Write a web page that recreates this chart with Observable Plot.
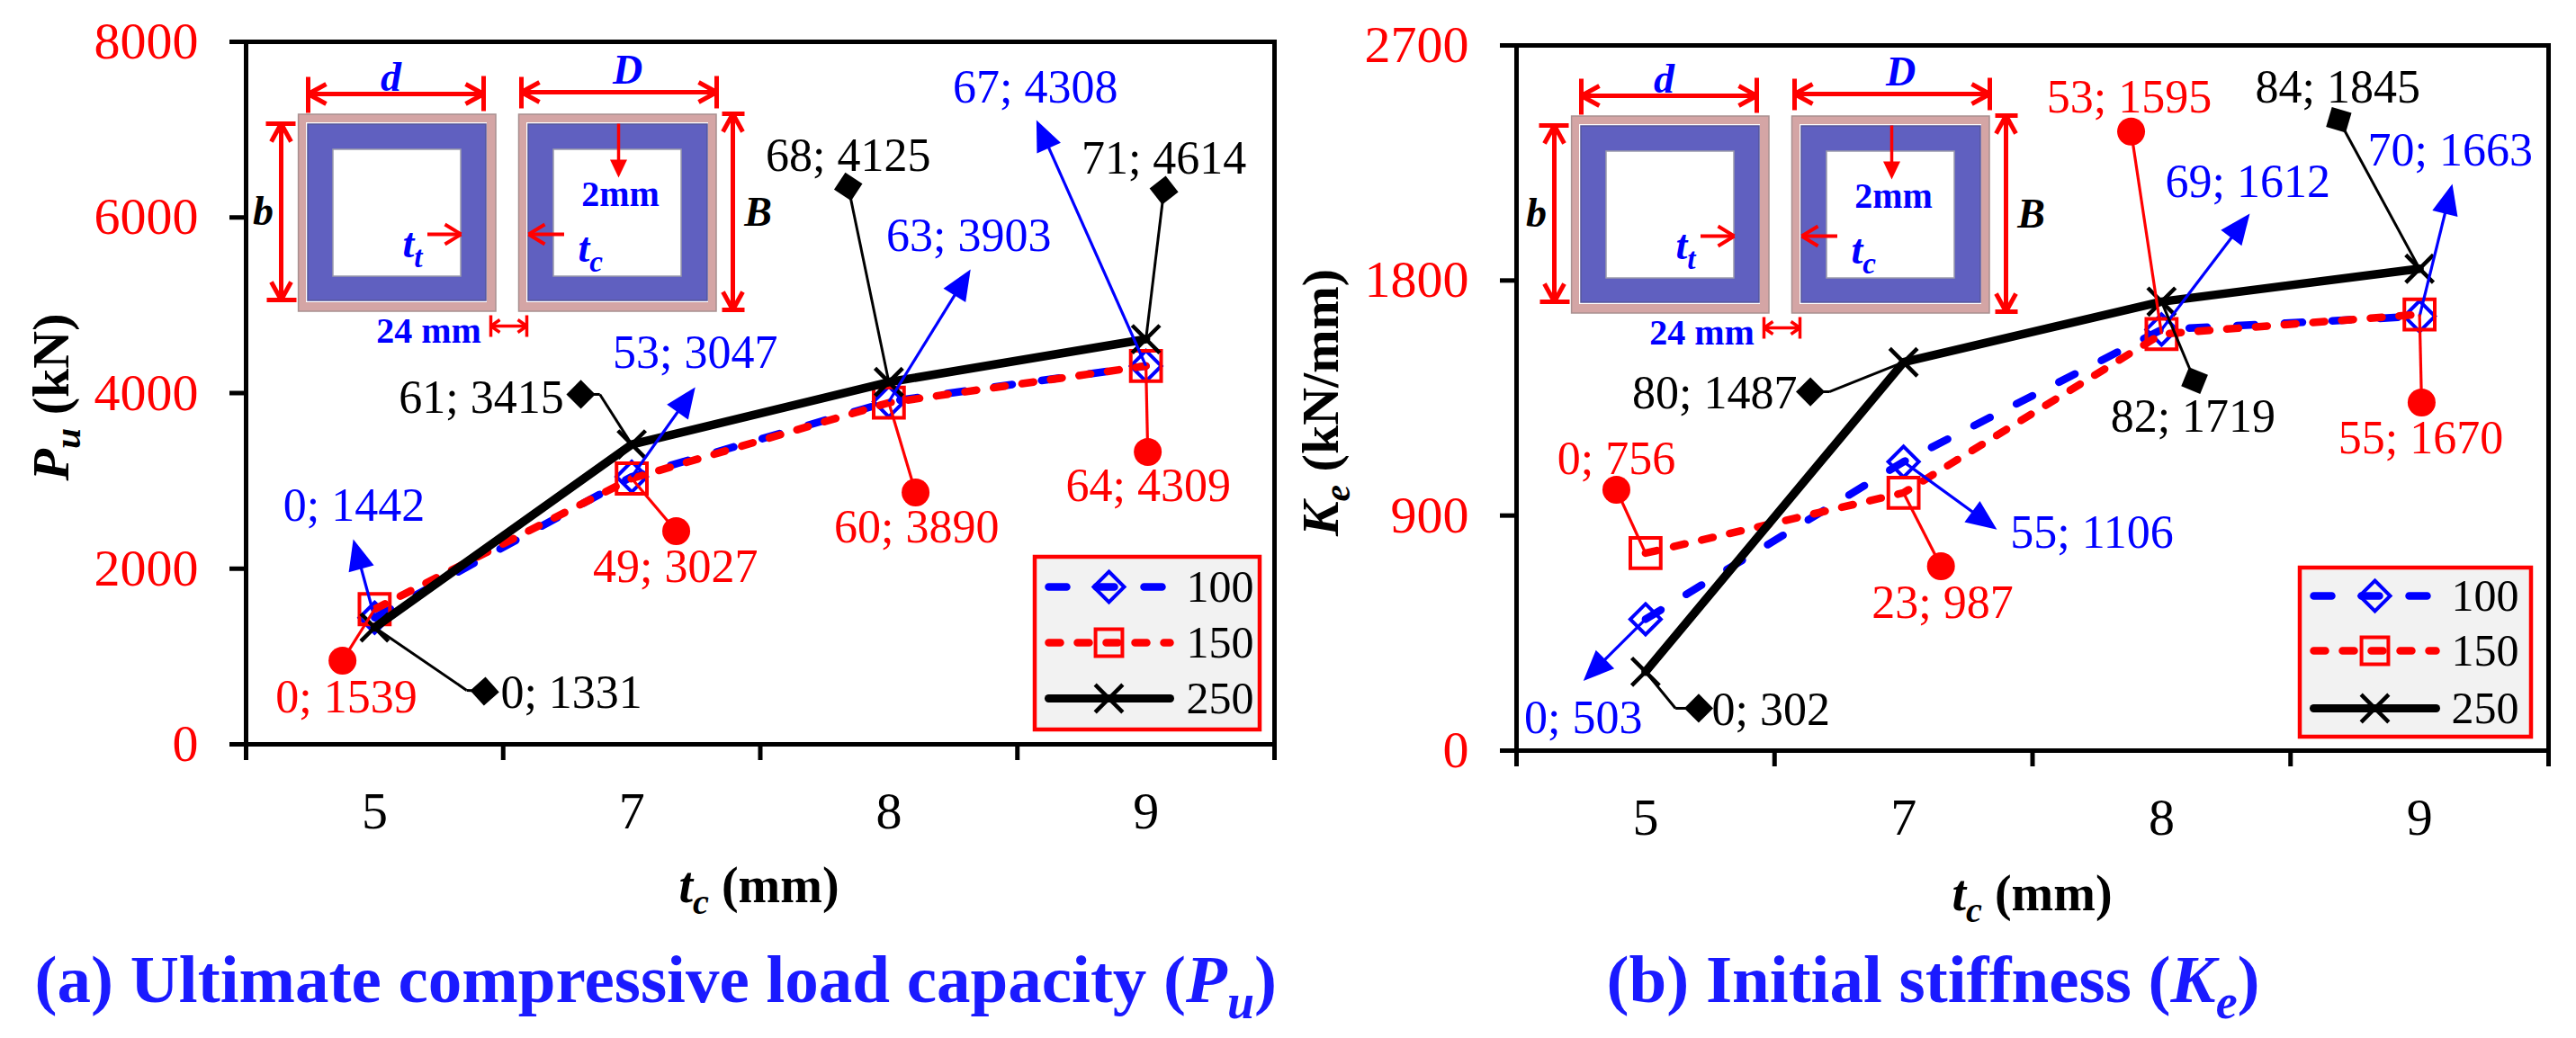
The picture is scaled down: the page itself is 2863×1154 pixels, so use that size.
<!DOCTYPE html>
<html>
<head>
<meta charset="utf-8">
<script src="https://cdn.jsdelivr.net/npm/d3@7"></script>
<script src="https://cdn.jsdelivr.net/npm/@observablehq/plot@0.6"></script>
<style>
  html, body { margin: 0; padding: 0; background: #fff; overflow: hidden; }
  #root { position: relative; width: 2863px; height: 1154px; overflow: hidden; background: #fff; }
  #root svg { position: absolute; max-width: none; }
</style>
</head>
<body>
<div id="root"></div>
<script>
// ---- chart values ----
const tcValues = [5, 7, 8, 9];
const seriesNames = ["100", "150", "250"];

const pu100 = [1442, 3047, 3903, 4308];
const pu150 = [1539, 3027, 3890, 4309];
const pu250 = [1331, 3415, 4125, 4614];
const ke100 = [503, 1106, 1612, 1663];
const ke150 = [756, 987, 1595, 1670];
const ke250 = [302, 1487, 1719, 1845];

const puIds100 = [0, 53, 63, 67];
const puIds150 = [0, 49, 60, 64];
const puIds250 = [0, 61, 68, 71];
const keIds100 = [0, 55, 69, 70];
const keIds150 = [0, 23, 53, 55];
const keIds250 = [0, 80, 82, 84];

// callout ends, in [category index, value] units
const puEnds100 = [[-0.083, 2335], [1.247, 4067], [2.318, 5408], [2.574, 7109]];
const puText100 = [[-0.08, 2714], [1.247, 4456], [2.311, 5787], [2.57, 7477]];
const puEnds150 = [[-0.125, 953], [1.173, 2428], [2.104, 2868], [3.007, 3329]];
const puText150 = [[-0.11, 533], [1.17, 2018], [2.108, 2469], [3.009, 2940]];
const puEnds250 = [[0.428, 604], [0.802, 3985], [1.842, 6351], [3.07, 6310]];
const puBend250 = [[0.358, 615], [0.876, 3985], null, null];
const puText250 = [[0.49, 584], [0.736, 3944], [1.842, 6699], [3.07, 6668]];
const puAnch250 = ["start", "end", "middle", "middle"];

const keEnds100 = [[-0.241, 267], [1.362, 846], [2.342, 2056], [3.127, 2170]];
const keText100 = [[-0.241, 124], [1.414, 835], [2.334, 2178], [3.119, 2298]];
const keAnch100 = ["middle", "start", "middle", "middle"];
const keEnds150 = [[-0.113, 999], [1.145, 706], [1.882, 2370], [3.008, 1333]];
const keText150 = [[-0.113, 1116], [1.151, 565], [1.875, 2500], [3.005, 1195]];
const keEnds250 = [[0.206, 162], [0.639, 1374], [2.128, 1417], [2.687, 2415]];
const keBend250 = [[0.116, 162], [0.712, 1374], null, null];
const keText250 = [[0.257, 155], [0.588, 1367], [2.122, 1278], [2.683, 2538]];
const keAnch250 = ["start", "end", "middle", "middle"];

// ---- styling ----
const FONT = "Liberation Serif";
const BLUE = "#0000ff", RED = "#ff0000", BLACK = "#000000", TITLE = "#1a1aff";
const PINK = "#d4a5a5", STEEL = "#6060c0";
const DASH_BLUE = "20 33", DASH_RED = "13 19";
const edges = [-0.5, 0.5, 1.5, 2.5, 3.5];
const ANCHORS = ["start", "middle", "end"];

const triangle = (len, half) => ({
  draw(c) { c.moveTo(0, 0); c.lineTo(half, len); c.lineTo(-half, len); c.closePath(); }
});

function rows(values, ids, ends, texts, bends, anchors) {
  return values.map((v, i) => ({
    i, v, label: `${ids[i]}; ${v}`,
    ex: ends[i][0], ey: ends[i][1],
    tx: texts[i][0], ty: texts[i][1],
    bx: bends && bends[i] ? bends[i][0] : i,
    by: bends && bends[i] ? bends[i][1] : v,
    anchor: anchors ? anchors[i] : "middle"
  }));
}

function panel(cfg) {
  const plotW = cfg.width - cfg.left - cfg.right;
  const plotH = cfg.height - cfg.top - cfg.bottom;
  const pxX = plotW / 4, pxY = plotH / cfg.yMax;
  const bearing = (x1, y1, x2, y2) =>
    Math.atan2((x2 - x1) * pxX, (y2 - y1) * pxY) * 180 / Math.PI;

  const seriesMarks = (vals, stroke, sw, dash, symbol, r, mw) => [
    Plot.line(vals, {x: (d, i) => i, y: d => d, stroke, strokeWidth: sw,
      strokeDasharray: dash, strokeLinecap: "round", strokeLinejoin: "round"}),
    Plot.dot(vals, {x: (d, i) => i, y: d => d, symbol, r, fill: "none", stroke, strokeWidth: mw})
  ];

  const texts = (data, fill) => ANCHORS.map(a => Plot.text(data.filter(d => d.anchor === a), {
    x: "tx", y: "ty", text: "label", fill, fontSize: 52, textAnchor: a
  }));

  const blue = cfg.blue, red = cfg.red, black = cfg.black;
  return Plot.plot({
    width: cfg.width, height: cfg.height,
    marginLeft: cfg.left, marginRight: cfg.right, marginTop: cfg.top, marginBottom: cfg.bottom,
    x: {domain: [-0.5, 3.5], axis: null},
    y: {domain: [0, cfg.yMax], axis: null},
    style: {fontFamily: FONT, background: "transparent", overflow: "visible"},
    marks: [
      Plot.frame({stroke: BLACK, strokeWidth: 5}),
      Plot.axisY({ticks: cfg.yTicks, tickSize: 18, tickPadding: 35, strokeWidth: 5, stroke: BLACK,
        fill: RED, fontSize: 58, label: null, tickFormat: d3.format("d")}),
      Plot.axisX({ticks: edges, tickSize: 18, strokeWidth: 5, stroke: BLACK, tickFormat: () => "", label: null}),
      Plot.axisX({ticks: [0, 1, 2, 3], tickSize: 0, tickPadding: cfg.xPad, fill: BLACK, strokeWidth: 0,
        fontSize: 58, label: null, tickFormat: i => tcValues[i]}),

      ...seriesMarks(cfg.values[0], BLUE, 8.5, DASH_BLUE, "diamond2", 15.3, 4),
      ...seriesMarks(cfg.values[1], RED, 8.5, DASH_RED, "square2", 21.5, 4),
      ...seriesMarks(cfg.values[2], BLACK, 9.5, null, "times", 14, 4.5),

      // blue arrows
      Plot.link(blue, {x1: "i", y1: "v", x2: d => d.i + (d.ex - d.i) * 0.94, y2: d => d.v + (d.ey - d.v) * 0.94,
        stroke: BLUE, strokeWidth: 3.2}),
      Plot.dot(blue, {x: "ex", y: "ey", symbol: triangle(34, 14.5), fill: BLUE, stroke: "none",
        rotate: d => bearing(d.i, d.v, d.ex, d.ey)}),
      ...texts(blue, BLUE),

      // red pins
      Plot.link(red, {x1: "i", y1: "v", x2: "ex", y2: "ey", stroke: RED, strokeWidth: 3.2}),
      Plot.dot(red, {x: "ex", y: "ey", r: 15.5, fill: RED, stroke: "none"}),
      ...texts(red, RED),

      // black pins
      Plot.link(black, {x1: "i", y1: "v", x2: "bx", y2: "by", stroke: BLACK, strokeWidth: 3}),
      Plot.link(black, {x1: "bx", y1: "by", x2: "ex", y2: "ey", stroke: BLACK, strokeWidth: 3}),
      Plot.dot(black, {x: "ex", y: "ey", symbol: "diamond2", r: 14.5, fill: BLACK, stroke: "none",
        rotate: d => bearing(d.bx, d.by, d.ex, d.ey)}),
      ...texts(black, BLACK)
    ]
  });
}

// ---- annotation layer, in page pixels ----
function schematic(ox, oy) {
  const X = v => v + ox, Y = v => v + oy;
  const rects = [
    [331.6, 551, 127, 346, PINK, "#a89090"], [340, 541, 136, 336, "#ffffff", "none"], [342, 540, 138, 334, STEEL, "#55559a"], [370, 512, 166, 307, "#ffffff", "#9999aa"],
    [576.5, 796, 127, 346, PINK, "#a89090"], [585, 787, 136, 336, "#ffffff", "none"], [587, 786, 138, 334, STEEL, "#55559a"], [615, 757, 166, 307, "#ffffff", "#9999aa"]
  ].map(([x1, x2, y1, y2, fill, stroke]) => ({x1: X(x1), x2: X(x2), y1: Y(y1), y2: Y(y2), fill, stroke}));

  const seg = (x1, y1, x2, y2, w) => ({x1: X(x1), y1: Y(y1), x2: X(x2), y2: Y(y2), w});
  const head = (x, y, dx, dy, len, half, w) => [
    seg(x, y, x - dx * len - dy * half, y - dy * len - dx * half, w),
    seg(x, y, x - dx * len + dy * half, y - dy * len + dx * half, w)
  ];
  const dimH = (x1, x2, y, b1a, b1b, b2a, b2b) => [
    seg(x1, y, x2, y, 5), seg(x1, b1a, x1, b1b, 5), seg(x2, b2a, x2, b2b, 5),
    ...head(x1, y, -1, 0, 20, 11, 5), ...head(x2, y, 1, 0, 20, 11, 5)
  ];
  const dimV = (x, y1, y2, a1, a2, b1, b2) => [
    seg(x, y1, x, y2, 5), seg(a1, y1, a2, y1, 5), seg(b1, y2, b2, y2, 5),
    ...head(x, y1, 0, -1, 20, 11, 5), ...head(x, y2, 0, 1, 20, 11, 5)
  ];
  const segs = [
    ...dimH(342, 537, 104, 85, 125, 84, 123),
    ...dimH(579, 796, 102, 85, 120, 84, 120),
    ...dimV(312, 137, 333, 295, 328, 296, 329),
    ...dimV(814, 126, 344, 802, 827, 802, 827),
    seg(474.5, 260, 512, 260, 4), ...head(512, 260, 1, 0, 18, 11, 4),
    seg(626.5, 260, 587, 260, 4), ...head(587, 260, -1, 0, 18, 11, 4),
    seg(687, 137, 687, 185, 3.5),
    seg(545, 362, 585, 362, 3.5), seg(545, 350, 545, 374, 3.5), seg(585, 350, 585, 374, 3.5),
    ...head(545, 362, -1, 0, 10, 7, 3.5), ...head(585, 362, 1, 0, 10, 7, 3.5)
  ];
  const italics = [
    {t: "d", x: 434, y: 100, fill: BLUE},
    {t: "D", x: 697, y: 92, fill: BLUE},
    {t: "b", x: 292, y: 249, fill: BLACK},
    {t: "B", x: 842, y: 250, fill: BLACK}
  ];
  const subscripted = [
    {t: "t[s:t]", x: 447, y: 285},
    {t: "t[s:c]", x: 642, y: 290}
  ];
  const uprights = [
    {t: "2mm", x: 689, y: 228},
    {t: "24 mm", x: 476, y: 380}
  ];
  return [
    Plot.rect(rects, {x1: "x1", x2: "x2", y1: "y1", y2: "y2", fill: d => d.fill, stroke: d => d.stroke, strokeWidth: 1.5}),
    Plot.link(segs, {x1: "x1", y1: "y1", x2: "x2", y2: "y2", stroke: RED, strokeWidth: d => d.w}),
    Plot.dot([[X(687), Y(197)]], {symbol: triangle(20, 9.5), fill: RED, stroke: "none", rotate: 180}),
    Plot.text(italics, {x: d => X(d.x), y: d => Y(d.y), text: "t", fill: d => d.fill, fontSize: 46,
      fontWeight: "bold", fontStyle: "italic", textAnchor: "middle", lineAnchor: "bottom"}),
    Plot.text(subscripted, {x: d => X(d.x), y: d => Y(d.y), text: "t", fill: BLUE, fontSize: 46,
      fontWeight: "bold", fontStyle: "italic", textAnchor: "start", lineAnchor: "bottom"}),
    Plot.text(uprights, {x: d => X(d.x), y: d => Y(d.y), text: "t", fill: BLUE, fontSize: 40,
      fontWeight: "bold", textAnchor: "middle", lineAnchor: "bottom"})
  ];
}

function legendBox(b) {
  const series = [
    {stroke: BLUE, dash: DASH_BLUE, sw: 8.5, symbol: "diamond2", r: 15.3, mw: 4},
    {stroke: RED, dash: DASH_RED, sw: 8.5, symbol: "square2", r: 19, mw: 4},
    {stroke: BLACK, dash: null, sw: 9, symbol: "times", r: 14, mw: 4.5}
  ];
  return [
    Plot.rect([b], {x1: "x1", x2: "x2", y1: "y1", y2: "y2", fill: "#f2f2f2", stroke: RED, strokeWidth: 4.5}),
    ...series.flatMap((s, i) => [
      Plot.line([[b.lx1, b.rows[i]], [b.lx2, b.rows[i]]], {stroke: s.stroke, strokeWidth: s.sw,
        strokeDasharray: s.dash, strokeLinecap: "round"}),
      Plot.dot([[b.mx, b.rows[i]]], {symbol: s.symbol, r: s.r, fill: "none", stroke: s.stroke, strokeWidth: s.mw})
    ]),
    Plot.text(seriesNames, {x: () => b.tx, y: (d, i) => b.rows[i], text: d => d, fill: BLACK, fontSize: 50, textAnchor: "end"})
  ];
}

function titles() {
  return [
    Plot.text([
      {t: "(a) Ultimate compressive load capacity ([i:P][s:u])", x: 38},
      {t: "(b) Initial stiffness ([i:K][s:e])", x: 1785}
    ], {x: "x", y: () => 1113, text: "t", fill: TITLE, fontSize: 75, fontWeight: "bold",
        textAnchor: "start", lineAnchor: "bottom"}),
    Plot.text([
      {t: "[i:t][s:c] (mm)", x: 843, y: 1002},
      {t: "[i:t][s:c] (mm)", x: 2258, y: 1011}
    ], {x: "x", y: "y", text: "t", fill: BLACK, fontSize: 56, fontWeight: "bold",
        textAnchor: "middle", lineAnchor: "bottom"}),
    Plot.text([
      {t: "[i:P][s:u] (kN)", x: 75, y: 441},
      {t: "[i:K][s:e] (kN/mm)", x: 1486, y: 447}
    ], {x: "x", y: "y", text: "t", fill: BLACK, fontSize: 58, fontWeight: "bold",
        textAnchor: "middle", lineAnchor: "bottom", rotate: -90})
  ];
}

// Turn [i:..] and [s:..] markup into italic / subscript tspans.
function enrich(svg) {
  svg.querySelectorAll("text").forEach(el => {
    const raw = el.textContent;
    if (!raw.includes("[")) return;
    const size = parseFloat(getComputedStyle(el).fontSize);
    const shift = size * 0.24;
    el.textContent = "";
    let pending = 0, last = 0;
    const add = (txt, cls) => {
      if (!txt) return;
      const ts = document.createElementNS("http://www.w3.org/2000/svg", "tspan");
      ts.textContent = txt;
      let dy = pending;
      if (cls === "s") {
        ts.setAttribute("font-size", size * 0.72);
        ts.setAttribute("font-style", "italic");
        dy += shift; pending = -shift;
      } else {
        pending = 0;
        if (cls === "i") ts.setAttribute("font-style", "italic");
      }
      if (dy) ts.setAttribute("dy", dy);
      el.appendChild(ts);
    };
    raw.replace(/\[(i|s):([^\]]*)\]/g, (m, cls, body, idx) => {
      add(raw.slice(last, idx));
      add(body, cls);
      last = idx + m.length;
      return m;
    });
    add(raw.slice(last));
  });
}

// ---- assemble ----
const root = document.getElementById("root");

const plotA = panel({
  width: 1440, height: 1154, left: 273, right: 24, top: 46, bottom: 327, xPad: 52,
  yMax: 8000, yTicks: [0, 2000, 4000, 6000, 8000],
  values: [pu100, pu150, pu250],
  blue: rows(pu100, puIds100, puEnds100, puText100),
  red: rows(pu150, puIds150, puEnds150, puText150),
  black: rows(pu250, puIds250, puEnds250, puText250, puBend250, puAnch250)
});
plotA.style.left = "0px"; plotA.style.top = "0px";
root.appendChild(plotA);

const plotB = panel({
  width: 1423, height: 1154, left: 245, right: 31, top: 50, bottom: 320, xPad: 52,
  yMax: 2700, yTicks: [0, 900, 1800, 2700],
  values: [ke100, ke150, ke250],
  blue: rows(ke100, keIds100, keEnds100, keText100, null, keAnch100),
  red: rows(ke150, keIds150, keEnds150, keText150),
  black: rows(ke250, keIds250, keEnds250, keText250, keBend250, keAnch250)
});
plotB.style.left = "1440px"; plotB.style.top = "0px";
root.appendChild(plotB);

const overlay = Plot.plot({
  width: 2863, height: 1154, margin: 0,
  x: {domain: [0, 2863], range: [0, 2863], axis: null},
  y: {domain: [0, 1154], range: [0, 1154], axis: null},
  style: {fontFamily: FONT, background: "transparent"},
  marks: [
    ...schematic(0, 0),
    ...schematic(1415, 2),
    ...legendBox({x1: 1150, x2: 1400, y1: 619, y2: 811, lx1: 1165, lx2: 1300, mx: 1232, tx: 1393, rows: [652, 714, 776]}),
    ...legendBox({x1: 2556, x2: 2813, y1: 631, y2: 819, lx1: 2571, lx2: 2707, mx: 2639, tx: 2799, rows: [662, 723, 787]}),
    ...titles()
  ]
});
overlay.style.left = "0px"; overlay.style.top = "0px";
root.appendChild(overlay);

[plotA, plotB, overlay].forEach(enrich);
</script>
</body>
</html>
